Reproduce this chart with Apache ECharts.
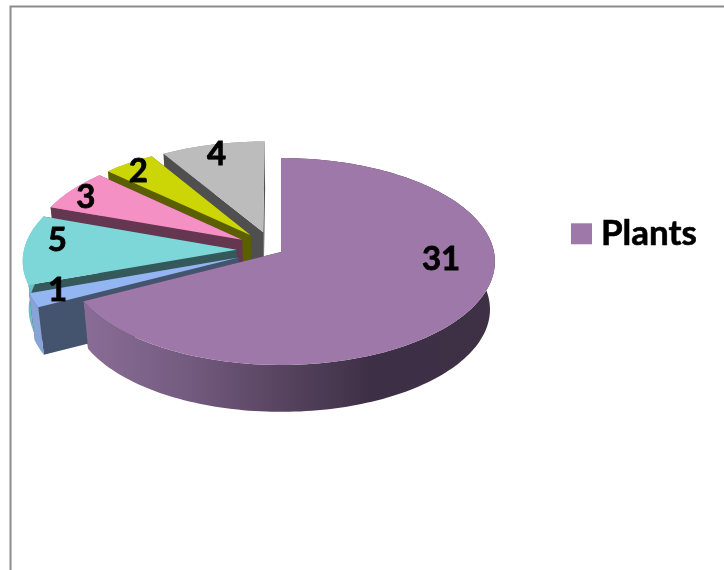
<!DOCTYPE html>
<html><head><meta charset="utf-8">
<style>html,body{margin:0;padding:0;background:#fff}#c{width:724px;height:570px}</style>
<script src="https://cdn.jsdelivr.net/npm/echarts@6/dist/echarts.min.js"></script>
</head><body><div id="c"></div>
<script>
const seriesName = 'Plants';
const values = [31, 1, 5, 3, 2, 4];
const topColors = ['#9d78a8', '#93b5f1', '#7dd6d8', '#f590c4', '#ccd606', '#bcbcbc'];
const wallColors = ['#4a3a52', '#44546f', '#35585a', '#643650', '#5b5f02', '#4f4f4f'];
const rimColors = ['#8a6d96', '#88a3d6', '#6cc0c2', '#c0709a', '#a0a804', '#909090'];
// direction each slice is pulled out along (deg clockwise from 12 o'clock); 0 explode = not pulled
const explodeDirs = [0, 255, 276, 303, 319, 336.5];
const explodeAmts = [0, 0.205, 0.21, 0.22, 0.22, 0.213];
// label anchor inside slice: [angle deg, radius fraction]
const labelAnchors = [[95, 0.75], [250, 0.87], [277, 0.86], [300, 0.9], [320, 0.9], [344, 0.895]];
// slices whose outer rim faces the viewer (drawn over their radial walls)
const frontFacing = [true, true, true, false, false, false];

const total = values.reduce((a, b) => a + b, 0);
const starts = []; values.reduce((a, v, i) => (starts[i] = a, a + v), 0);
const CX = 281, CY = 252, RX = 213, RY = 102.6, P = 0.0918, DEPTH = 48, SHRINK_X = 0.977, SHRINK_Y = 0.99;

function proj(X, Y, low) {
  const s = 1 / (1 - P * Y);
  return [CX + X * RX * s * (low ? SHRINK_X : 1), CY + (low ? DEPTH : 0) + Y * RY * s * (low ? SHRINK_Y : 1)];
}
const rad = d => d * Math.PI / 180;
function ringPt(theta, ex, ey, low, r) {
  const R = r === undefined ? 1 : r;
  return proj(ex + R * Math.sin(theta), ey - R * Math.cos(theta), low);
}
function renderItem(params, api) {
  const v = api.value(0), i = api.value(1);
  const a0 = starts[i] / total * 2 * Math.PI, a1 = (starts[i] + v) / total * 2 * Math.PI;
  const d = rad(explodeDirs[i]), amt = explodeAmts[i];
  const ex = amt * Math.sin(d), ey = -amt * Math.cos(d);
  const N = Math.max(6, Math.round((a1 - a0) * 40));
  const topArc = [], lowArc = [];
  for (let k = 0; k <= N; k++) {
    const t = a0 + (a1 - a0) * k / N;
    topArc.push(ringPt(t, ex, ey, false));
    lowArc.push(ringPt(t, ex, ey, true));
  }
  const apexT = proj(ex, ey, false), apexL = proj(ex, ey, true);
  const poly = (points, fill) => ({ type: 'polygon', shape: { points }, style: { fill }, silent: true });
  const rimFill = i === 0
    ? new echarts.graphic.LinearGradient(0, 0, 1, 0, [
        { offset: 0, color: '#8a6d96' }, { offset: 0.25, color: '#745b80' },
        { offset: 0.5, color: '#55425d' }, { offset: 0.7, color: '#3d2f45' }, { offset: 1, color: '#3e3045' }])
    : rimColors[i];
  const rim = poly(topArc.concat(lowArc.slice().reverse()), rimFill);
  const walls = [
    poly([apexT, topArc[N], lowArc[N], apexL], wallColors[i]),
    poly([apexT, topArc[0], lowArc[0], apexL], wallColors[i])
  ];
  const children = frontFacing[i] ? walls.concat([rim]) : [rim].concat(walls);
  // top face
  children.push(poly([apexT].concat(topArc), topColors[i]));
  // value label
  const la = labelAnchors[i];
  const lp = ringPt(rad(la[0]), ex, ey, false, la[1]);
  children.push({
    type: 'text', z2: 10,
    style: { text: String(v), x: lp[0], y: lp[1] + 1, fill: '#000', stroke: '#000', lineWidth: 0.8,
      font: 'bold 33px Lato, Carlito, sans-serif', align: 'center', verticalAlign: 'middle' }
  });
  return { type: 'group', children };
}
const chart = echarts.init(document.getElementById('c'), null, { renderer: 'canvas' });
chart.setOption({
  animation: false,
  backgroundColor: '#fff',
  legend: {
    data: [{ name: seriesName, icon: 'rect', itemStyle: { color: topColors[0] } }],
    left: 566, top: 211, itemWidth: 21, itemHeight: 21, itemGap: 0,
    textStyle: { fontFamily: 'Lato, sans-serif', fontWeight: 'bold', fontSize: 35, color: '#000',
      textBorderColor: '#000', textBorderWidth: 0.6, padding: [0, 0, 0, 4] },
    selectedMode: false
  },
  graphic: [
    { type: 'polyline', shape: { points: [[724, 6.5], [10.5, 6.5], [10.5, 570]] },
      style: { stroke: '#8c8c8c', lineWidth: 2, fill: null }, silent: true }
  ],
  series: [{
    type: 'custom', name: seriesName, coordinateSystem: 'none',
    itemStyle: { color: topColors[0] },
    renderItem,
    data: values.map((v, i) => [v, i]).reverse()
  }]
});
</script></body></html>
